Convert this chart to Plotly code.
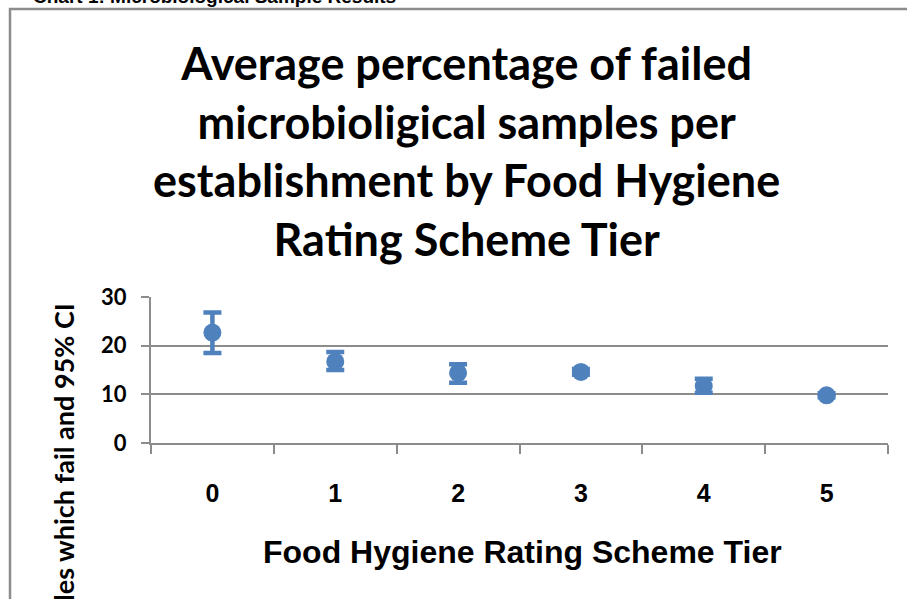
import plotly.graph_objects as go

tiers = ["0", "1", "2", "3", "4", "5"]
mean_pct = [22.7, 16.7, 14.4, 14.6, 11.7, 9.8]
ci_upper = [26.8, 18.7, 16.2, 15.2, 13.2, 10.2]
ci_lower = [18.5, 15.0, 12.4, 14.0, 10.3, 9.4]
y_ticks = [0, 10, 20, 30]

err_plus = [u - m for u, m in zip(ci_upper, mean_pct)]
err_minus = [m - l for m, l in zip(mean_pct, ci_lower)]

W, H = 907, 599
L, R, T, B = 151, 888, 297, 443

def px(x):
    return (x - L) / (R - L)

def py(y):
    return (B - y) / (B - T)

blue = "#4F81BD"
grid = "#8C8C8C"

fig = go.Figure()
fig.add_trace(go.Scatter(
    x=tiers, y=mean_pct, mode="markers",
    marker=dict(size=18, color=blue, symbol="circle"),
    error_y=dict(type="data", array=err_plus, arrayminus=err_minus,
                 color=blue, thickness=4.5, width=9, visible=True),
    showlegend=False,
))

fig.update_layout(
    width=W, height=H,
    margin=dict(l=L, r=W - R, t=T, b=H - B, autoexpand=False),
    paper_bgcolor="white", plot_bgcolor="white",
    xaxis=dict(
        type="category", range=[-0.5, 5.5], tickson="boundaries",
        ticks="outside", ticklen=9, tickwidth=1.5, tickcolor=grid,
        showline=True, linecolor=grid, linewidth=2, showgrid=False,
        tickfont=dict(family="Liberation Sans", size=25, color="black", weight="bold"),
        ticklabelstandoff=27,
    ),
    yaxis=dict(
        range=[0, 30], tickvals=y_ticks, ticks="outside", ticklen=8,
        tickwidth=1.5, tickcolor=grid,
        showline=True, linecolor=grid, linewidth=2,
        showgrid=True, gridcolor=grid, gridwidth=2, zeroline=False,
        tickfont=dict(family="Lato", size=22, color="black", weight="bold"),
        ticklabelstandoff=10,
    ),
    font=dict(family="Lato", color="black"),
)

fig.add_annotation(
    text="Average percentage of failed<br>microbioligical samples per<br>establishment by Food Hygiene<br>Rating Scheme Tier",
    xref="paper", yref="paper", x=px(466), y=py(151), xanchor="center", yanchor="middle",
    showarrow=False, align="center",
    font=dict(family="Lato", size=45, color="black", weight="bold"),
)
fig.add_annotation(
    text="Food Hygiene Rating Scheme Tier",
    xref="paper", yref="paper", x=px(522), y=py(552), xanchor="center", yanchor="middle",
    showarrow=False,
    font=dict(family="Liberation Sans", size=32, color="black", weight="bold"),
)
fig.add_annotation(
    text="Percentage of samples which fail and 95% CI",
    xref="paper", yref="paper", x=px(63), y=py(302), xanchor="center", yanchor="top",
    showarrow=False, textangle=-90,
    font=dict(family="Lato", size=27, color="black", weight="bold"),
)
fig.add_annotation(
    text="Chart 1: Microbiological Sample Results",
    xref="paper", yref="paper", x=px(31), y=py(-3), xanchor="left", yanchor="middle",
    showarrow=False,
    font=dict(family="Liberation Sans", size=19, color="black", weight="bold"),
)
fig.add_shape(
    type="rect", xref="paper", yref="paper",
    x0=px(10), y0=py(640), x1=px(940), y1=py(9),
    line=dict(color="#8C8C8C", width=2.5), layer="below",
)

fig.write_html("out.html", config={"displayModeBar": False},
               post_script="document.body.style.margin='0';document.body.style.padding='0';")
